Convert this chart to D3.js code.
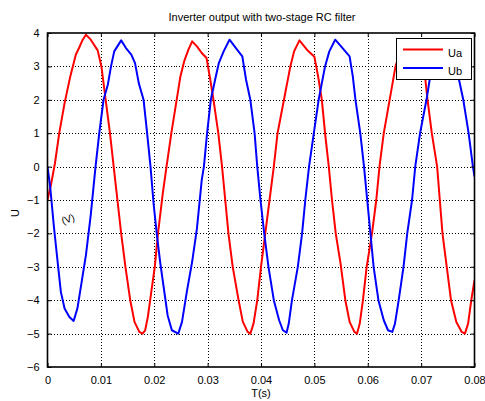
<!DOCTYPE html>
<meta charset="utf-8">
<script src="https://cdn.jsdelivr.net/npm/d3@7"></script>
<style>
body { margin: 0; background: #fff; }
text { font-family: "Liberation Sans", Arial, sans-serif; font-size: 11px; fill: #000; }
.grid line { stroke: #000; stroke-width: 1px; stroke-dasharray: 1,2; shape-rendering: crispEdges; }
.curve { fill: none; stroke-width: 2px; stroke-linejoin: round; }
</style>
<body>
<script>

// values: [time (s), voltage]
var ua = [
  [0, -1.0], [0.0007, -0.5], [0.0014, 0.1], [0.0022, 1.0], [0.0032, 1.9], [0.0042, 2.65],
  [0.0053, 3.35], [0.0059, 3.55], [0.0066, 3.8], [0.0072, 3.95], [0.0081, 3.8], [0.0094, 3.48],
  [0.0101, 3.0], [0.0109, 2.0], [0.0117, 1.0], [0.0124, 0.0], [0.0131, -1.0], [0.0138, -2.0],
  [0.0146, -3.0], [0.0155, -4.0], [0.0163, -4.65], [0.0172, -4.95], [0.0178, -5.0], [0.0183, -4.9],
  [0.0188, -4.5], [0.0194, -3.8], [0.0201, -3.0], [0.0207, -2.0], [0.0216, -0.8], [0.0223, 0.0],
  [0.0232, 1.0], [0.0242, 2.0], [0.0249, 2.7], [0.0256, 3.15], [0.0264, 3.5], [0.0271, 3.75],
  [0.0280, 3.6], [0.0289, 3.4], [0.0298, 3.25], [0.0305, 2.6], [0.0311, 2.0], [0.0320, 1.0],
  [0.0327, 0.0], [0.0333, -1.0], [0.0339, -2.0], [0.0347, -3.0], [0.0358, -4.0], [0.0366, -4.65],
  [0.0375, -4.95], [0.0380, -5.0], [0.0386, -4.7], [0.0393, -4.0], [0.0400, -3.0], [0.0408, -2.0],
  [0.0416, -1.0], [0.0424, 0.0], [0.0431, 1.0], [0.0443, 2.0], [0.0455, 3.0], [0.0462, 3.45],
  [0.0472, 3.78], [0.0486, 3.5], [0.0500, 3.29], [0.0507, 2.7], [0.0514, 2.0], [0.0520, 1.0],
  [0.0527, 0.0], [0.0533, -1.0], [0.0540, -2.0], [0.0549, -2.9], [0.0558, -4.0], [0.0566, -4.65],
  [0.0575, -4.95], [0.0580, -5.0], [0.0585, -4.7], [0.0591, -4.0], [0.0598, -3.0], [0.0608, -2.0],
  [0.0616, -1.0], [0.0622, 0.0], [0.0630, 1.0], [0.0641, 2.0], [0.0652, 3.0], [0.0662, 3.5],
  [0.0672, 3.75], [0.0686, 3.5], [0.0699, 3.25], [0.0708, 2.6], [0.0712, 2.0], [0.0720, 1.0],
  [0.0730, 0.0], [0.0735, -1.0], [0.0740, -2.0], [0.0748, -3.0], [0.0756, -4.0], [0.0766, -4.65],
  [0.0776, -4.95], [0.0782, -5.0], [0.0788, -4.7], [0.0794, -4.0], [0.0800, -3.4]
];

var ub = [
  [0, 0.0], [0.0005, -0.6], [0.0012, -1.8], [0.0019, -2.85], [0.0025, -3.75], [0.0032, -4.25],
  [0.0041, -4.5], [0.0049, -4.62], [0.0056, -4.25], [0.0064, -3.45], [0.0072, -2.65], [0.0081, -1.45],
  [0.0090, 0.0], [0.0097, 1.0], [0.0105, 2.0], [0.0113, 2.45], [0.0119, 3.0], [0.0125, 3.45],
  [0.0138, 3.78], [0.0147, 3.55], [0.0157, 3.35], [0.0164, 3.1], [0.0171, 2.5], [0.0180, 2.0],
  [0.0186, 1.1], [0.0193, 0.0], [0.0199, -1.15], [0.0205, -2.05], [0.0211, -2.85], [0.0218, -3.65],
  [0.0225, -4.45], [0.0233, -4.9], [0.0245, -5.0], [0.0252, -4.65], [0.0261, -3.75], [0.0271, -2.85],
  [0.0280, -1.85], [0.0289, -0.4], [0.0293, 0.0], [0.0299, 1.0], [0.0306, 2.0], [0.0314, 2.6],
  [0.0321, 3.1], [0.0330, 3.45], [0.0341, 3.8], [0.0353, 3.55], [0.0365, 3.3], [0.0372, 2.6],
  [0.0380, 2.0], [0.0388, 1.0], [0.0393, 0.0], [0.0399, -1.0], [0.0406, -2.0], [0.0414, -3.0],
  [0.0424, -4.0], [0.0434, -4.6], [0.0441, -4.9], [0.0448, -4.97], [0.0452, -4.7], [0.0458, -4.0],
  [0.0469, -3.0], [0.0477, -2.0], [0.0483, -1.0], [0.0490, 0.0], [0.0499, 1.0], [0.0508, 2.0],
  [0.0520, 3.0], [0.0528, 3.45], [0.0539, 3.8], [0.0550, 3.6], [0.0566, 3.3], [0.0572, 2.7],
  [0.0577, 2.0], [0.0586, 1.0], [0.0593, 0.0], [0.0599, -1.0], [0.0605, -2.0], [0.0611, -3.0],
  [0.0620, -4.0], [0.0630, -4.6], [0.0638, -4.9], [0.0646, -4.95], [0.0651, -4.7], [0.0658, -4.0],
  [0.0667, -3.0], [0.0674, -2.0], [0.0683, -1.0], [0.0689, 0.0], [0.0698, 1.0], [0.0710, 2.0],
  [0.0716, 2.6], [0.0727, 3.4], [0.0739, 3.78], [0.0752, 3.55], [0.0766, 3.3], [0.0771, 2.6],
  [0.0779, 2.0], [0.0789, 1.0], [0.0797, 0.0], [0.0800, -0.3]
];

var xTicks = [0, 0.01, 0.02, 0.03, 0.04, 0.05, 0.06, 0.07, 0.08];
var xTickLabels = ["0", "0.01", "0.02", "0.03", "0.04", "0.05", "0.06", "0.07", "0.08"];
var yTicks = [-6, -5, -4, -3, -2, -1, 0, 1, 2, 3, 4];
var seriesNames = ["Ua", "Ub"];
var seriesColors = ["#ff0000", "#0000ff"];

var width = 485,
    height = 401;
// plot box in pixels
var pLeft = 47.5, pRight = 474.5, pTop = 33, pBottom = 367;

var svg = d3.select("body").append("svg")
    .attr("width", width)
    .attr("height", height);

var x = d3.scaleLinear().domain([0, 0.08]).range([pLeft, pRight]);
var y = d3.scaleLinear().domain([-6, 4]).range([pBottom, pTop]);

// dotted grid
var grid = svg.append("g").attr("class", "grid");
grid.selectAll(".gx")
    .data(xTicks.slice(1, -1))
    .enter().append("line")
    .attr("x1", function(d) { return Math.round(x(d)) + 0.5; })
    .attr("x2", function(d) { return Math.round(x(d)) + 0.5; })
    .attr("y1", pTop)
    .attr("y2", pBottom);
grid.selectAll(".gy")
    .data(yTicks.slice(1, -1))
    .enter().append("line")
    .attr("y1", function(d) { return Math.round(y(d)) + 0.5; })
    .attr("y2", function(d) { return Math.round(y(d)) + 0.5; })
    .attr("x1", pLeft)
    .attr("x2", pRight);

svg.append("clipPath").attr("id", "clip")
  .append("rect")
    .attr("x", pLeft).attr("y", pTop)
    .attr("width", pRight - pLeft).attr("height", pBottom - pTop);

var line = d3.line()
    .x(function(d) { return x(d[0]); })
    .y(function(d) { return y(d[1]); });

svg.append("g").attr("clip-path", "url(#clip)")
  .selectAll("path")
    .data([ua, ub])
    .enter().append("path")
    .attr("class", "curve")
    .attr("stroke", function(d, i) { return seriesColors[i]; })
    .attr("d", line);

// axes: ticks pointing inward, on all four sides
function styleAxis(g) {
  g.select(".domain").remove();
  g.selectAll(".tick line").attr("stroke", "#000");
  g.selectAll(".tick text")
      .style("font-family", "Liberation Sans, Arial, sans-serif")
      .style("font-size", "11px");
}

svg.append("g")
    .attr("transform", "translate(0," + pBottom + ")")
    .call(d3.axisBottom(x).tickValues(xTicks)
        .tickFormat(function(d, i) { return xTickLabels[i]; })
        .tickSizeInner(-4).tickPadding(9))
    .call(styleAxis);

svg.append("g")
    .attr("transform", "translate(0," + pTop + ")")
    .call(d3.axisTop(x).tickValues(xTicks).tickSizeInner(-4).tickFormat(""))
    .call(styleAxis);

svg.append("g")
    .attr("transform", "translate(" + pLeft + ",0)")
    .call(d3.axisLeft(y).tickValues(yTicks).tickSizeInner(-4).tickPadding(8))
    .call(styleAxis);

svg.append("g")
    .attr("transform", "translate(" + pRight + ",0)")
    .call(d3.axisRight(y).tickValues(yTicks).tickSizeInner(-4).tickFormat(""))
    .call(styleAxis);

// frame
svg.append("rect")
    .attr("x", pLeft).attr("y", pTop)
    .attr("width", pRight - pLeft).attr("height", pBottom - pTop)
    .attr("fill", "none")
    .attr("stroke", "#000")
    .attr("stroke-width", 1.6);

// titles
svg.append("text")
    .attr("x", 262).attr("y", 21)
    .attr("text-anchor", "middle")
    .text("Inverter output with two-stage RC filter");

svg.append("text")
    .attr("x", 261).attr("y", 397)
    .attr("text-anchor", "middle")
    .text("T(s)");

svg.append("text")
    .attr("transform", "translate(19,213) rotate(-90)")
    .attr("text-anchor", "middle")
    .text("U");

// stray unit label sitting inside the plot
svg.append("text")
    .attr("transform", "translate(68,219) rotate(-20)")
    .attr("text-anchor", "middle")
    .attr("dy", "0.35em")
    .style("font-size", "10px")
    .text("(V)");

// legend
var legend = svg.append("g");
legend.append("rect")
    .attr("x", 396.5).attr("y", 38.5)
    .attr("width", 75).attr("height", 41)
    .attr("fill", "#fff")
    .attr("stroke", "#000")
    .attr("stroke-width", 1);

var item = legend.selectAll(".item")
    .data(seriesNames)
    .enter().append("g")
    .attr("transform", function(d, i) { return "translate(0," + (49.5 + i * 18.5) + ")"; });
item.append("line")
    .attr("x1", 403).attr("x2", 443)
    .attr("stroke", function(d, i) { return seriesColors[i]; })
    .attr("stroke-width", 2);
item.append("text")
    .attr("x", 448).attr("y", 7)
    .text(function(d) { return d; });

</script>
</body>
</html>
